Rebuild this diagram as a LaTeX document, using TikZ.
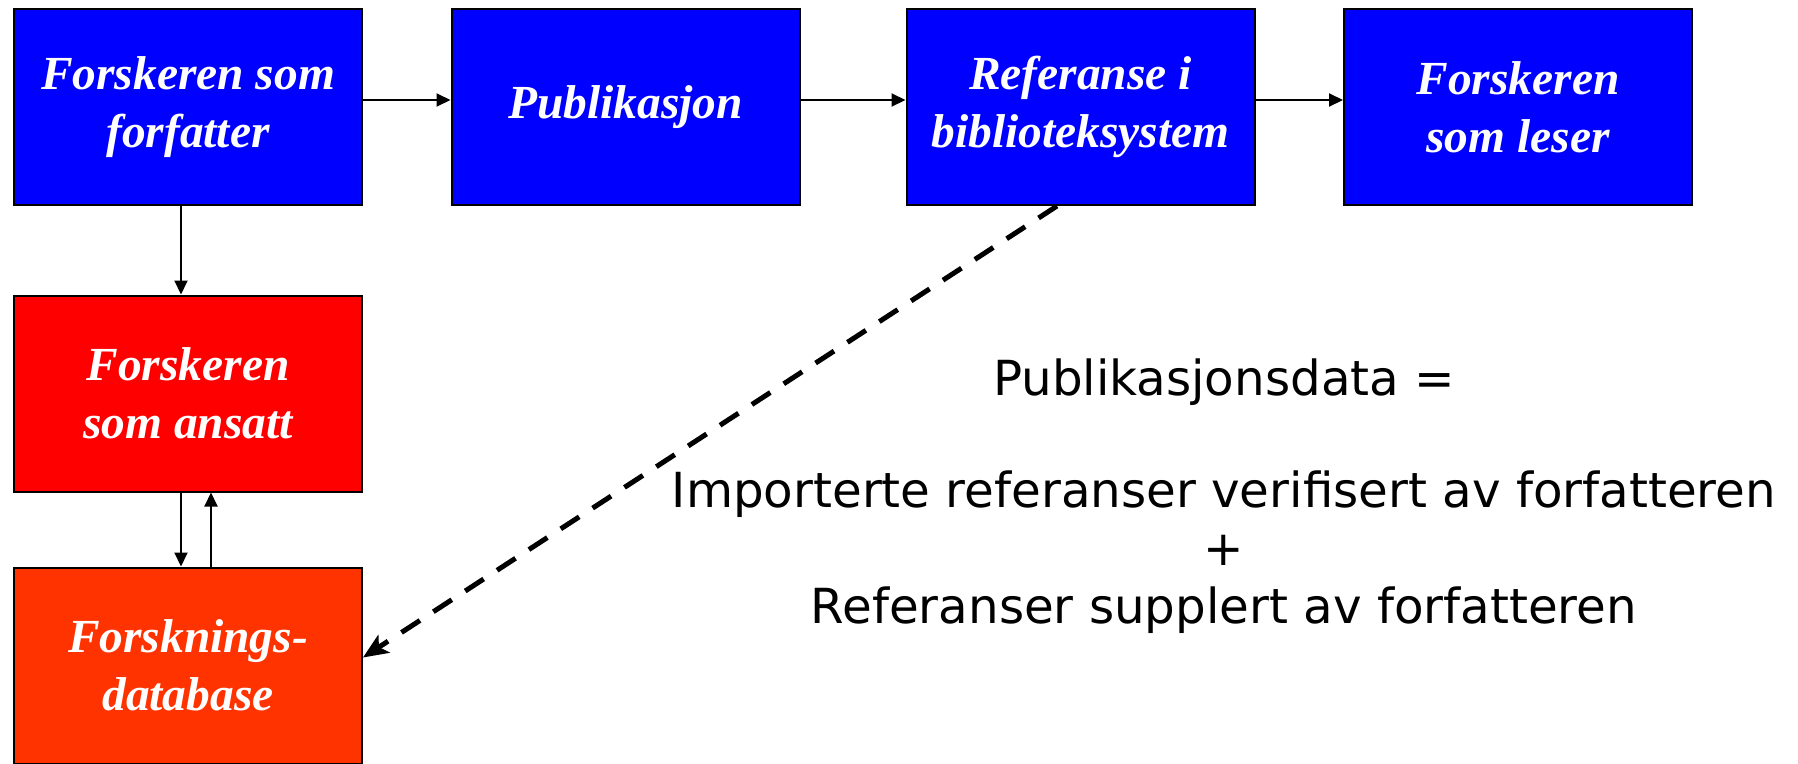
\documentclass[tikz,border=0pt]{standalone}
\usepackage{fontspec}
\setmainfont{Liberation Serif}
\setsansfont{DejaVu Sans}
\usepackage{tikz}
\usetikzlibrary{shapes,arrows,positioning,calc}
\usetikzlibrary{arrows.meta}
\tikzstyle{line} = [draw, -{Triangle[length=0.28cm,width=0.26cm]}, line width=0.04cm]
\tikzstyle{block} = [draw, rectangle, line width=0.04cm, minimum width=6.96cm,
  minimum height=3.92cm, align=center, text=white, inner sep=0pt,
  font=\fontsize{27}{33}\selectfont\bfseries\itshape]
\definecolor{dbfill}{RGB}{255,51,0}

\begin{document}
\begin{tikzpicture}
\useasboundingbox (0,0) rectangle (35.96,-15.26);

  \node [block, fill=blue, anchor=north west] (fcf) at (0.26,-0.16) {Forskeren som\\forfatter};
  \node [block, fill=blue, right = 1.75cm of fcf] (fcp) {Publikasjon};
  \node [block, fill=blue, right = 2.10cm of fcp] (fcr) {Referanse i\\biblioteksystem};
  \node [block, fill=blue, right = 1.75cm of fcr] (fcs) {Forskeren\\som leser};

  \node [block, fill=red, below = 1.77cm of fcf] (fca) {Forskeren\\som ansatt};
  \node [block, fill=dbfill, below = 1.48cm of fca] (fcd) {Forsknings-\\database};

  \node [font=\fontsize{27.5}{33}\selectfont\sffamily, align=center, anchor=base]
  (fct) at (24.48,-12.46) {Publikasjonsdata =\\[1.08cm]Importerte referanser verifisert av forfatteren\\+\\Referanser supplert av forfatteren};

  \path [line] ([yshift=0.14cm]fcf.east) -- ([yshift=0.14cm]fcp.west);
  \path [line] ([yshift=0.14cm]fcp.east) -- ([yshift=0.14cm]fcr.west);
  \path [line] ([yshift=0.14cm]fcr.east) -- ([yshift=0.14cm]fcs.west);
  \path [line] ([xshift=-0.14cm]fcf.south) -- ([xshift=-0.14cm]fca.north);
  \path [line] ([xshift=-0.14cm]fca.south) -- ([xshift=-0.14cm]fcd.north);
  \path [line] ([xshift=0.46cm]fcd.north) -- ([xshift=0.46cm]fca.south);
\draw[-{Stealth[length=0.5cm,width=0.42cm,inset=0.12cm]}, line width=0.1cm, dash pattern=on 0.44cm off 0.32cm]
  ([xshift=-0.47cm]fcr.south) -- ([yshift=0.16cm]fcd.east);

\end{tikzpicture}
\end{document}
